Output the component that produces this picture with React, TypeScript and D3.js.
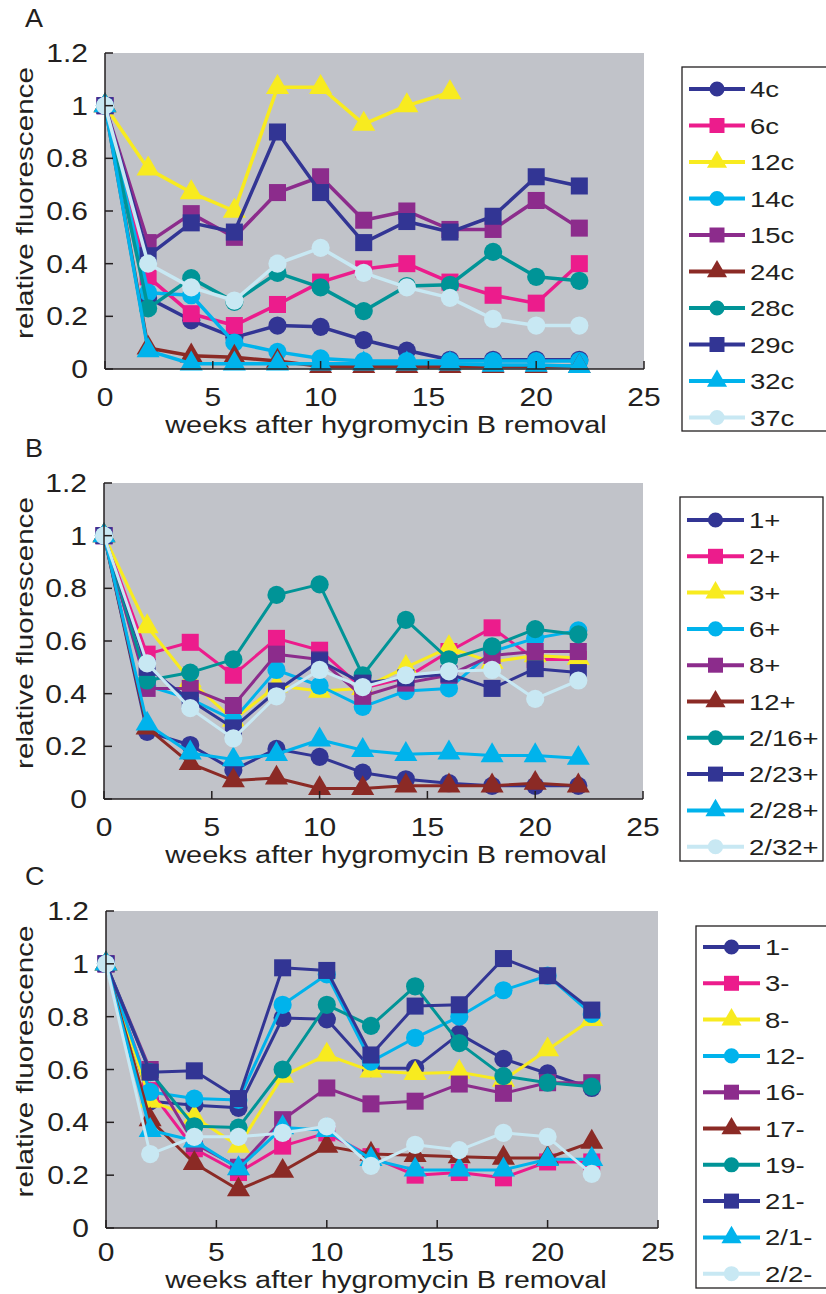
import React from 'react';
import * as d3 from 'd3';

const weeks = [0, 2, 4, 6, 8, 10, 12, 14, 16, 18, 20, 22];
const yTicks = [0, 0.2, 0.4, 0.6, 0.8, 1, 1.2];
const xTicks = [0, 5, 10, 15, 20, 25];

// panel A
const labelsA = ['4c', '6c', '12c', '14c', '15c', '24c', '28c', '29c', '32c', '37c'];
const a4c = [1, 0.27, 0.185, 0.12, 0.165, 0.16, 0.11, 0.07, 0.035, 0.035, 0.035, 0.035];
const a6c = [1, 0.35, 0.21, 0.165, 0.245, 0.33, 0.38, 0.4, 0.33, 0.28, 0.25, 0.4];
const a12c = [1, 0.76, 0.67, 0.6, 1.07, 1.07, 0.93, 1.0, 1.05];
const a14c = [1, 0.29, 0.28, 0.1, 0.065, 0.04, 0.03, 0.03, 0.03, 0.03, 0.03, 0.03];
const a15c = [1, 0.48, 0.59, 0.5, 0.67, 0.73, 0.565, 0.6, 0.53, 0.53, 0.64, 0.535];
const a24c = [1, 0.08, 0.05, 0.045, 0.03, 0.01, 0.01, 0.01, 0.01, 0.01, 0.01, 0.01];
const a28c = [1, 0.23, 0.345, 0.255, 0.365, 0.31, 0.22, 0.315, 0.32, 0.445, 0.35, 0.335];
const a29c = [1, 0.43, 0.555, 0.52, 0.9, 0.67, 0.48, 0.56, 0.52, 0.58, 0.73, 0.695];
const a32c = [1, 0.07, 0.02, 0.02, 0.02, 0.02, 0.02, 0.02, 0.02, 0.015, 0.015, 0.01];
const a37c = [1, 0.4, 0.31, 0.26, 0.4, 0.46, 0.365, 0.31, 0.27, 0.19, 0.165, 0.165];

// panel B
const labelsB = ['1+', '2+', '3+', '6+', '8+', '12+', '2/16+', '2/23+', '2/28+', '2/32+'];
const b1 = [1, 0.255, 0.205, 0.11, 0.19, 0.16, 0.1, 0.075, 0.06, 0.05, 0.05, 0.05];
const b2 = [1, 0.55, 0.595, 0.47, 0.61, 0.565, 0.42, 0.46, 0.56, 0.65, 0.53, 0.53];
const b3 = [1, 0.655, 0.45, 0.3, 0.43, 0.41, 0.42, 0.5, 0.575, 0.52, 0.545, 0.535];
const b6 = [1, 0.43, 0.38, 0.3, 0.49, 0.43, 0.35, 0.41, 0.42, 0.56, 0.61, 0.64];
const b8 = [1, 0.42, 0.42, 0.355, 0.55, 0.53, 0.39, 0.44, 0.47, 0.545, 0.56, 0.56];
const b12 = [1, 0.27, 0.135, 0.07, 0.08, 0.04, 0.04, 0.05, 0.05, 0.05, 0.06, 0.05];
const b216 = [1, 0.45, 0.48, 0.53, 0.775, 0.815, 0.47, 0.68, 0.53, 0.58, 0.645, 0.625];
const b223 = [1, 0.5, 0.375, 0.27, 0.41, 0.525, 0.44, 0.46, 0.475, 0.42, 0.495, 0.48];
const b228 = [1, 0.285, 0.175, 0.15, 0.17, 0.225, 0.185, 0.17, 0.175, 0.165, 0.165, 0.155];
const b232 = [1, 0.515, 0.345, 0.23, 0.39, 0.49, 0.425, 0.47, 0.485, 0.49, 0.38, 0.45];

// panel C
const labelsC = ['1-', '3-', '8-', '12-', '16-', '17-', '19-', '21-', '2/1-', '2/2-'];
const c1 = [1, 0.48, 0.465, 0.455, 0.795, 0.79, 0.605, 0.605, 0.735, 0.64, 0.585, 0.53];
const c3 = [1, 0.52, 0.3, 0.21, 0.31, 0.36, 0.27, 0.2, 0.21, 0.19, 0.25, 0.25];
const c8 = [1, 0.48, 0.42, 0.31, 0.575, 0.655, 0.595, 0.585, 0.59, 0.56, 0.675, 0.79];
const c12 = [1, 0.515, 0.49, 0.485, 0.845, 0.96, 0.63, 0.72, 0.8, 0.9, 0.955, 0.81];
const c16 = [1, 0.6, 0.32, 0.23, 0.41, 0.53, 0.47, 0.48, 0.545, 0.51, 0.55, 0.55];
const c17 = [1, 0.41, 0.245, 0.145, 0.215, 0.31, 0.28, 0.275, 0.27, 0.265, 0.265, 0.325];
const c19 = [1, 0.59, 0.385, 0.38, 0.6, 0.845, 0.765, 0.915, 0.7, 0.575, 0.55, 0.535];
const c21 = [1, 0.59, 0.595, 0.49, 0.985, 0.975, 0.655, 0.84, 0.845, 1.02, 0.955, 0.825];
const c2_1 = [1, 0.37, 0.33, 0.225, 0.38, 0.37, 0.26, 0.22, 0.22, 0.22, 0.26, 0.26];
const c2_2 = [1, 0.28, 0.345, 0.345, 0.36, 0.385, 0.235, 0.315, 0.295, 0.36, 0.345, 0.205];

const colors = ['#323594', '#ec1c8c', '#f8eb1f', '#00b3ec', '#8c2c8c', '#8b2a25', '#009497', '#323594', '#00b3ec', '#c8e8f3'];
const shapes = ['circle', 'square', 'triangle', 'circle', 'square', 'triangle', 'circle', 'square', 'triangle', 'circle'];

const FONT = '"Liberation Sans", Arial, Helvetica, sans-serif';
const INK = '#231f20';

const symbolFor = (s: string) =>
  s === 'circle' ? d3.symbolCircle : s === 'square' ? d3.symbolSquare : d3.symbolTriangle;

// text stretched along its own direction, the original figure uses a wide face
const Txt = ({ x, y, size, sx = 1.2, anchor = 'start', rot = 0, children }: any) => (
  <text
    transform={`translate(${x},${y}) rotate(${rot}) scale(${sx},1)`}
    fontSize={size}
    fontFamily={FONT}
    fill={INK}
    textAnchor={anchor}
  >
    {children}
  </text>
);

const Panel = ({ p, labels, series }: any) => {
  const x = d3.scaleLinear().domain([0, 25]).range([p.left, p.right]);
  const y = d3.scaleLinear().domain([0, 1.2]).range([p.bottom, p.top]);
  const line = d3
    .line<number>()
    .x((d, i) => x(weeks[i]))
    .y((d) => y(d));
  const lg = p.legend;

  return (
    <g>
      <Txt x={p.letterX} y={p.top - 26} size={25} sx={1.08}>{p.letter}</Txt>
      <rect x={p.left} y={p.top} width={p.right - p.left} height={p.bottom - p.top} fill="#c1c3c9" />

      {series.map((vals: number[], i: number) => {
        const sym = d3.symbol().type(symbolFor(shapes[i])).size(shapes[i] === 'triangle' ? 230 : shapes[i] === 'square' ? 290 : 260);
        return (
          <g key={i}>
            <path d={line(vals) || ''} fill="none" stroke={colors[i]} strokeWidth={p.lw} strokeLinejoin="round" />
            {vals.map((v, j) => (
              <path key={j} d={sym() || ''} transform={`translate(${x(weeks[j])},${y(v)})`} fill={colors[i]} />
            ))}
          </g>
        );
      })}

      {/* axes */}
      <line x1={p.left} x2={p.left} y1={p.top} y2={p.bottom} stroke={INK} strokeWidth={1.5} />
      <line x1={p.left} x2={p.right} y1={p.bottom} y2={p.bottom} stroke={INK} strokeWidth={1.5} />
      {yTicks.map((t) => (
        <g key={'y' + t}>
          <line x1={p.left} x2={p.left + 8} y1={y(t)} y2={y(t)} stroke={INK} strokeWidth={1.5} />
          <Txt x={p.left - 17} y={y(t) + 9} size={25} anchor="end">{String(t)}</Txt>
        </g>
      ))}
      {xTicks.map((t) => (
        <g key={'x' + t}>
          <line x1={x(t)} x2={x(t)} y1={p.bottom} y2={p.bottom - 8} stroke={INK} strokeWidth={1.5} />
          <Txt x={x(t)} y={p.bottom + p.tickDy} size={25} anchor="middle">{String(t)}</Txt>
        </g>
      ))}
      <Txt x={386} y={p.bottom + p.titleDy} size={24.5} anchor="middle" sx={1.18}>weeks after hygromycin B removal</Txt>
      <Txt x={33} y={(p.top + p.bottom) / 2 - 8} size={24.5} anchor="middle" rot={-90} sx={1.21}>relative fluorescence</Txt>

      {/* legend */}
      <rect x={lg.x} y={lg.y} width={lg.w} height={lg.h} fill="white" stroke={INK} strokeWidth={1.3} />
      {labels.map((lab: string, i: number) => {
        const ry = lg.row0 + i * lg.step;
        const cx = (lg.l0 + lg.l1) / 2;
        const sym = d3.symbol().type(symbolFor(shapes[i])).size(shapes[i] === 'triangle' ? 175 : shapes[i] === 'square' ? 225 : 180);
        return (
          <g key={lab}>
            <line x1={lg.l0} x2={lg.l1} y1={ry} y2={ry} stroke={colors[i]} strokeWidth={4} />
            <path d={sym() || ''} transform={`translate(${cx},${ry})`} fill={colors[i]} />
            <Txt x={lg.tx} y={ry + 8} size={21.5} sx={1.28}>{lab}</Txt>
          </g>
        );
      })}
    </g>
  );
};

const panels = [
  {
    letter: 'A', letterX: 25, left: 105, right: 644, top: 53, bottom: 369, lw: 3.5, tickDy: 37, titleDy: 64,
    legend: { x: 682, y: 67, w: 150, h: 364, row0: 89, step: 36.5, l0: 689, l1: 745, tx: 750 },
  },
  {
    letter: 'B', letterX: 25, left: 104, right: 643, top: 483, bottom: 799, lw: 3, tickDy: 37, titleDy: 64,
    legend: { x: 680, y: 497, w: 143, h: 364, row0: 520, step: 36.3, l0: 687, l1: 744, tx: 749 },
  },
  {
    letter: 'C', letterX: 25, left: 106, right: 658, top: 911, bottom: 1228, lw: 3, tickDy: 33, titleDy: 60,
    legend: { x: 696, y: 926, w: 140, h: 362, row0: 947, step: 36.3, l0: 703, l1: 760, tx: 765 },
  },
];

const App = () => (
  <svg width={826} height={1294} style={{ position: 'absolute', left: 0, top: 0, background: 'white' }}>
    <Panel p={panels[0]} labels={labelsA} series={[a4c, a6c, a12c, a14c, a15c, a24c, a28c, a29c, a32c, a37c]} />
    <Panel p={panels[1]} labels={labelsB} series={[b1, b2, b3, b6, b8, b12, b216, b223, b228, b232]} />
    <Panel p={panels[2]} labels={labelsC} series={[c1, c3, c8, c12, c16, c17, c19, c21, c2_1, c2_2]} />
  </svg>
);

export default App;
